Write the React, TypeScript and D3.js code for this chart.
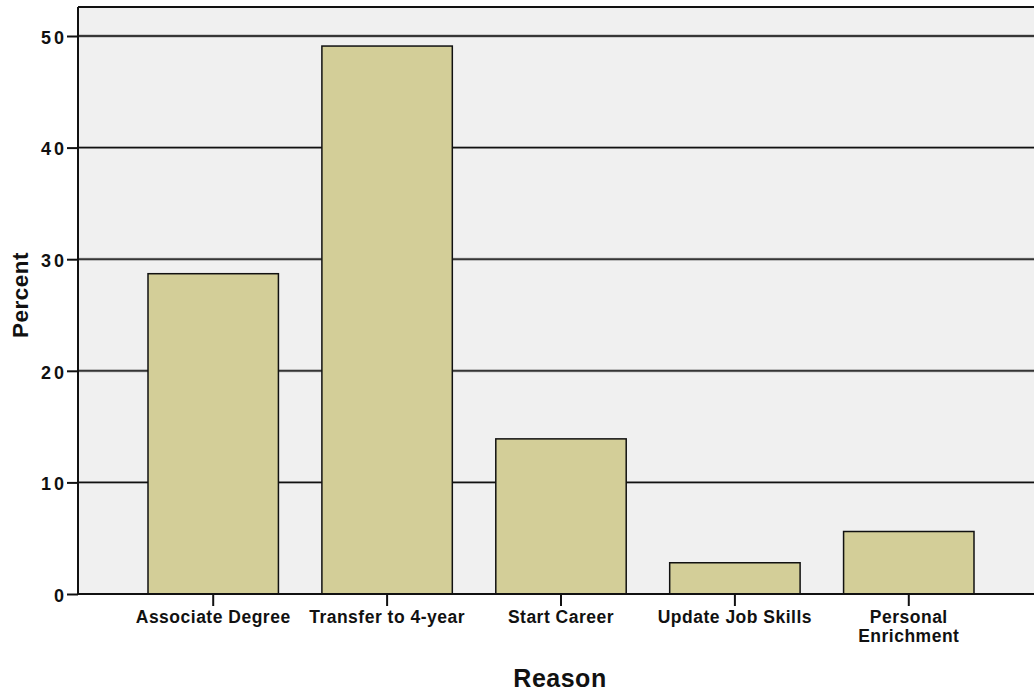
import React, { useEffect, useRef } from 'react';
import * as d3 from 'd3';

const categories = ['Associate Degree', 'Transfer to 4-year', 'Start Career', 'Update Job Skills', 'Personal Enrichment'];
const percents = [28.7, 49.1, 13.9, 2.8, 5.6];
const yTicks = [0, 10, 20, 30, 40, 50];

const W = 1034;
const H = 694;

export default function App() {
  const svgRef = useRef<SVGSVGElement>(null);

  useEffect(() => {
    if (!svgRef.current) return;
    const svg = d3.select(svgRef.current);
    svg.selectAll('*').remove();

    const left = 78, right = 1034, top = 7, bottom = 594;
    const font = '"Liberation Sans", Arial, sans-serif';

    const x = d3.scaleBand<string>()
      .domain(categories)
      .range([148, 974])
      .paddingInner(0.25)
      .paddingOuter(0);

    const y = d3.scaleLinear().domain([0, 50]).range([bottom, 36]);

    // Plot background
    svg.append('rect')
      .attr('x', left).attr('y', top)
      .attr('width', right - left).attr('height', bottom - top)
      .attr('fill', '#f0f0f0');

    // Grid lines
    const grid = svg.append('g');
    yTicks.filter(t => t > 0).forEach(t => {
      grid.append('line')
        .attr('x1', left).attr('x2', right)
        .attr('y1', y(t)).attr('y2', y(t))
        .attr('stroke', '#a8a8a8').attr('stroke-width', 3);
      grid.append('line')
        .attr('x1', left).attr('x2', right)
        .attr('y1', y(t)).attr('y2', y(t))
        .attr('stroke', '#111').attr('stroke-width', 1.3);
    });

    // Top border
    svg.append('line')
      .attr('x1', left).attr('x2', right).attr('y1', top).attr('y2', top)
      .attr('stroke', '#111').attr('stroke-width', 2);

    // Bars
    svg.append('g')
      .selectAll('rect')
      .data(categories)
      .enter()
      .append('rect')
      .attr('x', d => x(d) as number)
      .attr('y', (_, i) => y(percents[i]))
      .attr('width', x.bandwidth())
      .attr('height', (_, i) => bottom - y(percents[i]))
      .attr('fill', '#d3ce98')
      .attr('stroke', '#111')
      .attr('stroke-width', 1.5);

    // Y axis
    svg.append('g')
      .attr('transform', `translate(${left},0)`)
      .call(d3.axisLeft(y).tickValues(yTicks).tickSize(11).tickPadding(0).tickFormat(d3.format('d')))
      .call(g => g.select('.domain').attr('stroke', '#111').attr('stroke-width', 2).attr('d', `M0,${top}V${bottom}`))
      .call(g => g.selectAll('.tick line').attr('stroke', '#111').attr('stroke-width', 2))
      .call(g => g.selectAll('.tick text')
        .attr('fill', '#111')
        .attr('dy', '0.4em')
        .attr('font-family', font)
        .attr('font-weight', 'bold')
        .attr('font-size', '18px')
        .attr('letter-spacing', '3px'));

    // X axis
    svg.append('g')
      .attr('transform', `translate(0,${bottom})`)
      .call(d3.axisBottom(x).tickSize(12).tickFormat(() => ''))
      .call(g => g.select('.domain').attr('stroke', '#111').attr('stroke-width', 2).attr('d', `M${left},0H${right}`))
      .call(g => g.selectAll('.tick line').attr('stroke', '#111').attr('stroke-width', 2));

    // Category labels (wrap last)
    const labels = svg.append('g');
    categories.forEach(c => {
      const cx = (x(c) as number) + x.bandwidth() / 2;
      const lines = c === 'Personal Enrichment' ? ['Personal', 'Enrichment'] : [c];
      const t = labels.append('text')
        .attr('x', cx).attr('y', 623)
        .attr('text-anchor', 'middle')
        .attr('font-family', font)
        .attr('font-weight', 'bold')
        .attr('font-size', '17.5px')
        .attr('letter-spacing', '0.5px')
        .attr('fill', '#111');
      lines.forEach((ln, i) => {
        t.append('tspan').attr('x', cx).attr('dy', i === 0 ? 0 : 19).text(ln);
      });
    });

    // Axis titles
    svg.append('text')
      .attr('x', 560).attr('y', 687)
      .attr('text-anchor', 'middle')
      .attr('font-family', font)
      .attr('font-weight', 'bold')
      .attr('font-size', '25px')
      .attr('fill', '#111')
      .attr('letter-spacing', '0.5px')
      .text('Reason');

    svg.append('text')
      .attr('transform', `translate(28,295) rotate(-90)`)
      .attr('text-anchor', 'middle')
      .attr('font-family', font)
      .attr('font-weight', 'bold')
      .attr('font-size', '22.5px')
      .attr('fill', '#111')
      .attr('letter-spacing', '0.5px')
      .text('Percent');
  }, []);

  return (
    <div style={{ position: 'absolute', left: 0, top: 0 }}>
      <svg ref={svgRef} width={W} height={H} style={{ display: 'block', background: '#fff' }} />
    </div>
  );
}
